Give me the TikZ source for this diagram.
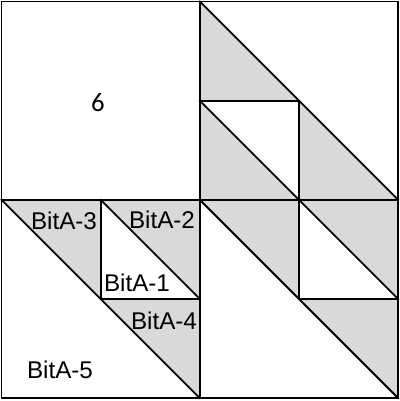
\documentclass[tikz,border=0pt]{standalone}
\usepackage{fontspec}
\setmainfont{Liberation Sans}
\newfontfamily\carlitofont{Carlito}
\begin{document}
\begin{tikzpicture}[x=0.025cm,y=-0.025cm,
  patch/.style={fill=black!15},
  seam/.style={line width=1.3pt,line join=miter,line cap=rect},
  lbl/.style={inner sep=0pt,font=\fontsize{17.2}{20}\selectfont},
  numlbl/.style={inner sep=0pt,font=\carlitofont\fontsize{19}{22}\selectfont}]
\useasboundingbox (0,0) rectangle (400,401);
\begin{scope}[shift={(1.5,1.5)},x=2.478125cm,y=-2.478125cm]
  % gray patches
  \foreach \a/\b/\c in {{(2,0)}/{(3,1)}/{(2,1)},{(2,1)}/{(3,2)}/{(2,2)},{(3,1)}/{(4,2)}/{(3,2)},
                        {(0,2)}/{(1,2)}/{(1,3)},{(1,2)}/{(2,2)}/{(2,3)},{(1,3)}/{(2,3)}/{(2,4)},
                        {(2,2)}/{(3,2)}/{(3,3)},{(3,2)}/{(4,2)}/{(4,3)},{(3,3)}/{(4,3)}/{(4,4)}}
    \fill[patch] \a -- \b -- \c -- cycle;
  % seams
  \draw[seam] (0,0) rectangle (4,4);
  \draw[seam] (2,0) -- (2,4) (0,2) -- (4,2);
  \draw[seam] (2,0) -- (4,2) (0,2) -- (2,4) (2,2) -- (4,4);
  \draw[seam] (2,1) -- (3,2) (1,2) -- (2,3) (3,2) -- (4,3);
  \draw[seam] (2,1) -- (3,1) -- (3,2);
  \draw[seam] (1,2) -- (1,3) -- (2,3);
  \draw[seam] (3,2) -- (3,3) -- (4,3);
\end{scope}
\node[numlbl] (six) at (98,103) {6};
\node[lbl] (b3) at (64,221) {BitA-3};
\node[lbl] (b2) at (162,220) {BitA-2};
\node[lbl] (b1) at (137,283) {BitA-1};
\node[lbl] (b4) at (164,321) {BitA-4};
\node[lbl] (b5) at (60,370) {BitA-5};
\end{tikzpicture}
\end{document}
